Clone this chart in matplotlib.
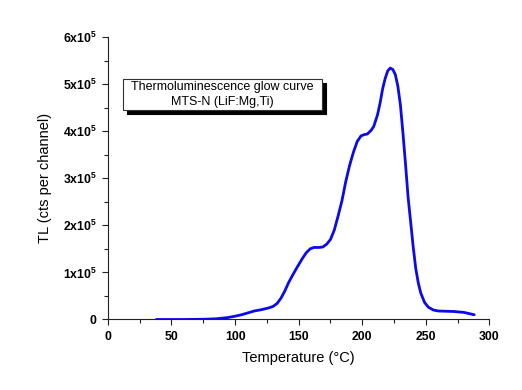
import matplotlib
matplotlib.use("Agg")
import matplotlib.pyplot as plt
import matplotlib.transforms as mtransforms
from matplotlib.patches import Rectangle
from matplotlib.ticker import MultipleLocator, FuncFormatter

plt.rcParams['font.family'] = ['Liberation Sans', 'DejaVu Sans']
plt.rcParams['mathtext.fontset'] = 'custom'
plt.rcParams['mathtext.rm'] = 'Liberation Sans:bold'
plt.rcParams['mathtext.it'] = 'Liberation Sans:bold'
plt.rcParams['mathtext.bf'] = 'Liberation Sans:bold'

temperature = [38, 60, 75, 85, 94, 100, 105, 110, 115, 121, 127, 130, 133, 136, 139, 142,
               145, 149, 153, 156, 159, 162, 166, 169, 172, 175, 178, 181, 184, 187, 190,
               193, 196, 199, 202, 204, 207, 209, 212, 214, 216, 218, 220, 222, 224, 226,
               228, 230, 232, 234, 236, 238, 240, 242, 244, 246, 249, 252, 256, 260,
               266, 272, 276, 280, 284, 288]
tl_counts_e5 = [0.0, 0.0, 0.005, 0.015, 0.04, 0.07, 0.10, 0.14, 0.18, 0.21, 0.25, 0.28,
                0.34, 0.45, 0.60, 0.78, 0.93, 1.12, 1.30, 1.42, 1.50, 1.53, 1.53, 1.54,
                1.60, 1.70, 1.90, 2.20, 2.52, 2.93, 3.27, 3.55, 3.78, 3.90, 3.93, 3.94,
                4.02, 4.10, 4.35, 4.60, 4.90, 5.12, 5.28, 5.34, 5.31, 5.20, 4.95, 4.55,
                3.95, 3.30, 2.60, 2.08, 1.55, 1.09, 0.78, 0.56, 0.36, 0.26, 0.20, 0.18,
                0.175, 0.17, 0.16, 0.15, 0.125, 0.10]
tl_counts = [v * 1e5 for v in tl_counts_e5]

x_label = "Temperature (°C)"
y_label = "TL (cts per channel)"
box_text = "Thermoluminescence glow curve\nMTS-N (LiF:Mg,Ti)"

fig = plt.figure(figsize=(5.22, 3.90), dpi=100)
ax = fig.add_axes([0.2067, 0.1808, 0.731, 0.7243])

ax.plot(temperature, tl_counts, color='#0a0aee', lw=2.0, solid_capstyle='round',
        solid_joinstyle='round')

ax.set_xlim(0, 300)
ax.set_ylim(0, 6e5)
ax.xaxis.set_major_locator(MultipleLocator(50))
ax.xaxis.set_minor_locator(MultipleLocator(25))
ax.yaxis.set_major_locator(MultipleLocator(1e5))
ax.yaxis.set_minor_locator(MultipleLocator(0.5e5))

def yfmt(v, pos):
    n = int(round(v / 1e5))
    if n == 0:
        return "0"
    return r"$\mathrm{%dx10^{5}}$" % n

ax.yaxis.set_major_formatter(FuncFormatter(yfmt))
ax.xaxis.set_major_formatter(FuncFormatter(lambda v, p: "%d" % v))

for s in ['top', 'right']:
    ax.spines[s].set_visible(False)
for s in ['left', 'bottom']:
    ax.spines[s].set_linewidth(0.8)
    ax.spines[s].set_color('#222222')

ax.tick_params(which='major', direction='out', length=4.5, width=0.8, labelsize=8.8, color='#222222')
ax.tick_params(which='minor', direction='out', length=3, width=0.8, color='#222222')
for lab in ax.get_xticklabels() + ax.get_yticklabels():
    lab.set_fontweight('bold')

ax.set_xlabel(x_label, fontsize=10.5, labelpad=6)
ax.set_ylabel(y_label, fontsize=10.5, labelpad=8)

# text box with shadow
bx0, bx1 = 11.6, 168.1
by0, by1 = 4.46e5, 5.10e5
shadow_tr = mtransforms.offset_copy(ax.transData, fig=fig, x=4, y=-4, units='dots')
ax.add_patch(Rectangle((bx0, by0), bx1 - bx0, by1 - by0, transform=shadow_tr,
                       facecolor='black', edgecolor='black', lw=0.8, zorder=4, clip_on=False))
ax.add_patch(Rectangle((bx0, by0), bx1 - bx0, by1 - by0, facecolor='white',
                       edgecolor='#333333', lw=0.8, zorder=5, clip_on=False))
ax.text((bx0 + bx1) / 2, (by0 + by1) / 2, box_text, ha='center', va='center',
        fontsize=9.0, zorder=6, linespacing=1.3)

fig.savefig("out.png", dpi=100)
